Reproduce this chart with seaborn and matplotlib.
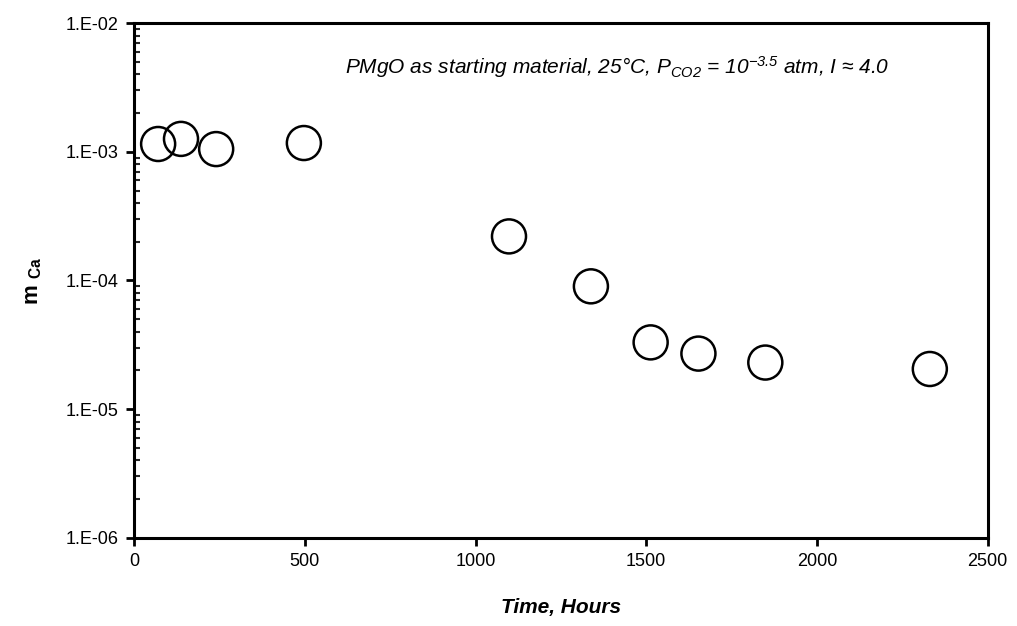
import numpy as np
import pandas as pd
import matplotlib
matplotlib.use("Agg")
import matplotlib.pyplot as plt
import matplotlib.ticker as mticker
import seaborn as sns

# Datos
time_hours = [70, 137, 240, 497, 1098, 1338, 1513, 1653, 1849, 2331]
m_ca = [1.15e-3, 1.26e-3, 1.05e-3, 1.17e-3, 2.2e-4, 9.0e-5, 3.3e-5, 2.7e-5, 2.3e-5, 2.05e-5]
x_ticks = [0, 500, 1000, 1500, 2000, 2500]
y_ticks = [1e-6, 1e-5, 1e-4, 1e-3, 1e-2]

df = pd.DataFrame({"Time": time_hours, "mCa": m_ca})

sns.set_style("ticks")
plt.rcParams["font.family"] = ["Liberation Sans", "DejaVu Sans"]
plt.rcParams["text.color"] = "black"
plt.rcParams["axes.labelcolor"] = "black"
plt.rcParams["mathtext.fontset"] = "custom"
plt.rcParams["mathtext.rm"] = "Liberation Sans"
plt.rcParams["mathtext.it"] = "Liberation Sans:italic"
plt.rcParams["mathtext.bf"] = "Liberation Sans:bold"

fig = plt.figure(figsize=(10.17, 6.26), dpi=100)
ax = fig.add_axes([0.132, 0.141, 0.839, 0.822])

sns.scatterplot(data=df, x="Time", y="mCa", ax=ax, marker="o", s=600,
                facecolor="none", edgecolor="black", linewidth=1.8, zorder=3)

ax.set_yscale("log")
ax.set_xlim(0, 2500)
ax.set_ylim(1e-6, 1e-2)
ax.set_xticks(x_ticks)
ax.set_yticks(y_ticks)
ax.yaxis.set_major_formatter(mticker.FuncFormatter(lambda v, p: "1.E%03d" % int(round(np.log10(v)))))
ax.yaxis.set_minor_locator(mticker.LogLocator(base=10, subs=np.arange(2, 10)))
ax.yaxis.set_minor_formatter(mticker.NullFormatter())

for s in ax.spines.values():
    s.set_linewidth(2.2)
    s.set_color("black")

ax.tick_params(axis="both", which="major", direction="out", length=6, width=2,
               labelsize=13, colors="black", pad=5)
ax.tick_params(axis="y", which="minor", direction="in", length=4, width=1.5)

ax.set_xlabel("Time, Hours", fontsize=15, fontweight="bold", fontstyle="italic", labelpad=20)
ax.set_ylabel(r"$\mathbf{m}\ _{\mathbf{Ca}}$", fontsize=16, labelpad=16)

ax.text(0.566, 0.915,
        r"PMgO as starting material, 25°C, P$_{\mathregular{CO2}}$ = 10$^{\mathregular{-3.5}}$ atm, I ≈ 4.0",
        transform=ax.transAxes, ha="center", va="center", fontsize=15, fontstyle="italic")

plt.savefig("out.png", dpi=100)
